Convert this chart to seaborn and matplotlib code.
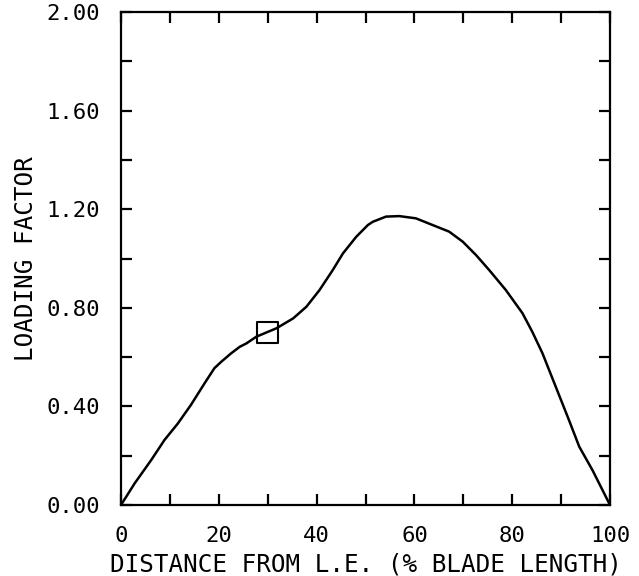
import matplotlib
matplotlib.use("Agg")
import matplotlib.pyplot as plt
import seaborn as sns
import pandas as pd

# Data
distance = [0, 2.8, 6.2, 8.9, 11.6, 14.3, 17.1, 19.1, 20.5, 22.5, 24.3, 25.6, 27.7,
            31.8, 35.2, 37.9, 40.6, 43.3, 45.4, 48.1, 50.5, 51.5, 54.2, 56.9,
            60.3, 63.7, 67.1, 69.9, 72.6, 75.3, 78.7, 82.1, 84.1, 86.2, 88.9,
            91.6, 93.7, 96.4, 100]
loading = [0.0, 0.088, 0.183, 0.264, 0.33, 0.406, 0.494, 0.555, 0.581, 0.615, 0.642, 0.655, 0.683,
           0.717, 0.757, 0.804, 0.872, 0.953, 1.021, 1.088, 1.136, 1.149, 1.170, 1.172,
           1.163, 1.136, 1.109, 1.068, 1.014, 0.953, 0.872, 0.778, 0.703, 0.615, 0.48,
           0.345, 0.237, 0.142, 0.0]
marker_x = [30]
marker_y = [0.70]

x_ticks = list(range(0, 101, 10))
x_labels = [str(v) if v % 20 == 0 else "" for v in x_ticks]
y_ticks = [0.0, 0.2, 0.4, 0.6, 0.8, 1.0, 1.2, 1.4, 1.6, 1.8, 2.0]
y_labels = [f"{v:.2f}" if round(v * 10) % 4 == 0 else "" for v in y_ticks]

sns.set_style("ticks")
plt.rcParams["font.family"] = ["DejaVu Sans Mono", "DejaVu Sans"]
plt.rcParams["text.color"] = "black"
plt.rcParams["axes.labelcolor"] = "black"

fig = plt.figure(figsize=(6.39, 5.76), dpi=100)
ax = fig.add_axes([121 / 639, 1 - 505 / 576, (610 - 121) / 639, (505 - 12) / 576])

df = pd.DataFrame({"x": distance, "y": loading})
sns.lineplot(data=df, x="x", y="y", ax=ax, color="black", linewidth=1.8, sort=False)
sns.scatterplot(x=marker_x, y=marker_y, ax=ax, marker="s", s=220,
                facecolor="none", edgecolor="black", linewidth=1.5, zorder=5)

ax.set_xlim(0, 100)
ax.set_ylim(0, 2.0)
ax.set_xticks(x_ticks)
ax.set_xticklabels(x_labels)
ax.set_yticks(y_ticks)
ax.set_yticklabels(y_labels)
ax.tick_params(direction="in", length=8, width=1.6, top=True, right=True,
               labelsize=16, colors="black")
ax.tick_params(axis="x", pad=15)
ax.tick_params(axis="y", pad=15)
for sp in ax.spines.values():
    sp.set_visible(True)
    sp.set_linewidth(1.6)
    sp.set_color("black")

ax.set_xlabel("DISTANCE FROM L.E. (% BLADE LENGTH)", fontsize=17.5, labelpad=5, color="black")
ax.set_ylabel("LOADING FACTOR", fontsize=17.5, labelpad=6, color="black")

fig.savefig("out.png", dpi=100, facecolor="white")
